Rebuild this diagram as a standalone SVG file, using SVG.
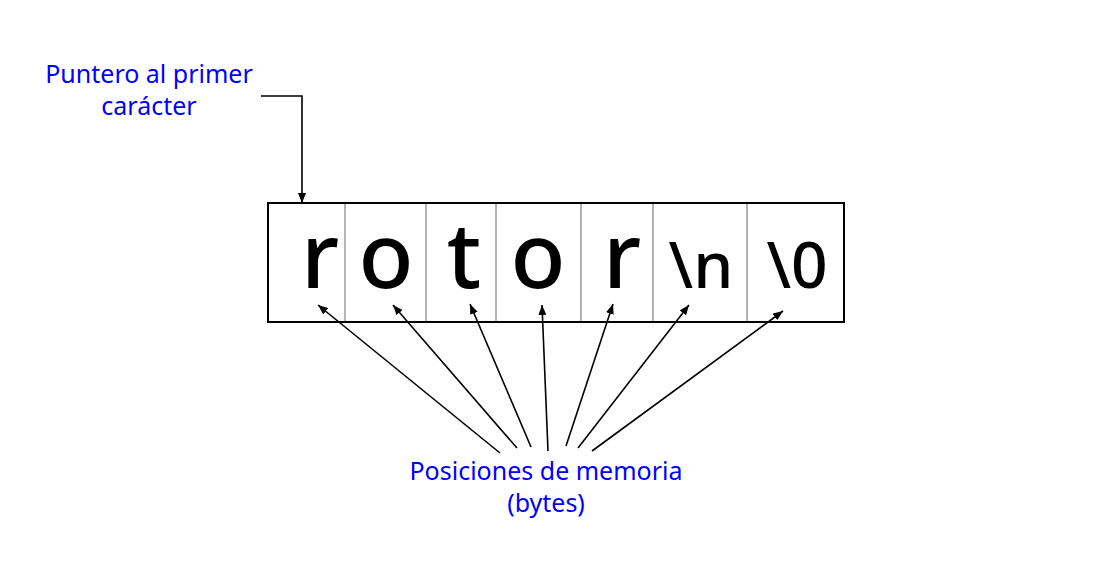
<svg xmlns="http://www.w3.org/2000/svg" width="1097" height="574" viewBox="0 0 1097 574">
<style>
.lbl{font-family:"Noto Sans","DejaVu Sans",sans-serif;font-size:25px;fill:#0000ff;text-anchor:middle}
.ch{font-family:"Noto Sans","DejaVu Sans",sans-serif;font-size:90px;fill:#000;text-anchor:middle;font-weight:500}
.esc{font-family:"Noto Sans","DejaVu Sans",sans-serif;font-size:64px;fill:#000;text-anchor:middle;font-weight:500}
.div{stroke:#666;stroke-width:1}
.con{stroke:#000;stroke-width:1.6;fill:none;marker-end:url(#ah)}
</style>
<defs>
<marker id="ah" markerWidth="10" markerHeight="8" refX="10" refY="4" orient="auto" markerUnits="userSpaceOnUse">
<path d="M0,0 L10,4 L0,8 Z" fill="#000"/>
</marker>
</defs>
<rect width="1097" height="574" fill="#fff"/>
<g id="memory">
<rect x="268" y="203" width="576" height="119" fill="#fff" stroke="#000" stroke-width="2"/>
<line class="div" x1="345" y1="204" x2="345" y2="321"/>
<line class="div" x1="426" y1="204" x2="426" y2="321"/>
<line class="div" x1="496" y1="204" x2="496" y2="321"/>
<line class="div" x1="581" y1="204" x2="581" y2="321"/>
<line class="div" x1="653" y1="204" x2="653" y2="321"/>
<line class="div" x1="747" y1="204" x2="747" y2="321"/>
</g>
<g id="c1"><text class="ch" x="320" y="288">r</text></g>
<g id="c2"><text class="ch" x="386" y="288">o</text></g>
<g id="c3"><text class="ch" x="464" y="288">t</text></g>
<g id="c4"><text class="ch" x="538" y="288">o</text></g>
<g id="c5"><text class="ch" x="622" y="288">r</text></g>
<g id="c6"><text class="esc" x="701" y="288">\n</text></g>
<g id="c7"><text class="esc" x="797" y="288">\0</text></g>
<g id="pointer-label"><text class="lbl" x="149" y="83">Puntero al primer</text><text class="lbl" x="149" y="115">carácter</text></g>
<g id="memory-label"><text class="lbl" x="546" y="480">Posiciones de memoria</text><text class="lbl" x="546" y="512">(bytes)</text></g>
<g id="connectors">
<polyline class="con" points="261,96 302,96 302,203"/>
<line class="con" x1="500" y1="453" x2="318" y2="305"/>
<line class="con" x1="517" y1="448" x2="393" y2="305"/>
<line class="con" x1="531" y1="447" x2="470" y2="304"/>
<line class="con" x1="548" y1="451" x2="542" y2="305"/>
<line class="con" x1="566" y1="446" x2="613" y2="304"/>
<line class="con" x1="578" y1="448" x2="689" y2="305"/>
<line class="con" x1="592" y1="451" x2="783" y2="311"/>
</g>
</svg>
